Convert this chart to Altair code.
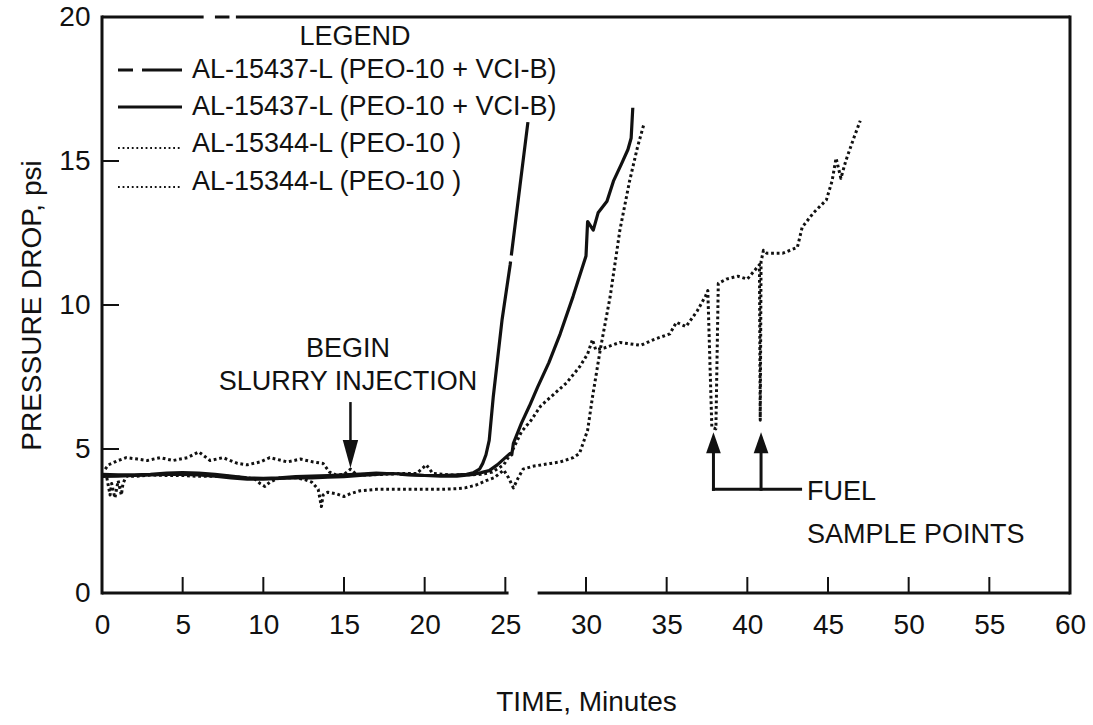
import altair as alt
import pandas as pd

FONT = "Liberation Sans, Arial, Helvetica, sans-serif"
INK = "#111111"

# ---------------- data ----------------
# AL-15437-L (PEO-10 + VCI-B), long-dashed trace (steep rise at ~24 min)
steep_t = [0, 1, 2, 3, 4, 5, 6, 7, 8, 9, 10, 11, 12, 13, 14, 15, 16, 17, 18, 19, 20, 21, 22,
           22.6, 23.0, 23.4, 23.6, 23.8, 24.0, 24.25, 24.8, 25.3, 25.9, 26.4]
steep_v = [4.12, 4.1, 4.1, 4.12, 4.16, 4.18, 4.16, 4.12, 4.06, 4.0, 3.98, 4.0, 4.04, 4.06, 4.08,
           4.1, 4.13, 4.16, 4.14, 4.1, 4.08, 4.08, 4.1,
           4.12, 4.17, 4.3, 4.5, 4.8, 5.3, 6.8, 9.5, 11.4, 14.1, 16.35]

# AL-15437-L (PEO-10 + VCI-B), solid trace
solid_t = [0, 1, 2, 3, 4, 5, 6, 7, 8, 9, 10, 11, 12, 13, 14, 15, 16, 17, 18, 19, 20, 21, 22,
           23, 23.5, 24.0, 24.5, 25.0, 25.3, 25.4, 25.5, 26.0, 26.5, 27.0, 27.7, 28.4, 29.2,
           30.0, 30.1, 30.45, 30.75, 31.3, 31.7, 32.2, 32.6, 32.8, 32.9]
solid_v = [4.05, 4.06, 4.08, 4.1, 4.12, 4.12, 4.1, 4.06, 4.0, 3.95, 3.95, 3.98, 4.0, 4.0, 4.02,
           4.04, 4.08, 4.12, 4.15, 4.12, 4.08, 4.06, 4.06,
           4.12, 4.18, 4.25, 4.45, 4.7, 4.85, 4.8, 5.2, 5.9, 6.5, 7.15, 8.0, 9.0, 10.3,
           11.7, 12.9, 12.6, 13.2, 13.6, 14.3, 14.9, 15.4, 15.8, 16.85]

# AL-15344-L (PEO-10), dotted trace ending at ~33.6 min
dota_t = [0, 0.3, 0.5, 0.6, 0.8, 1.0, 1.2, 1.3, 1.5, 2, 3, 4, 5, 6, 7, 8, 9, 9.5, 9.8, 10.1,
          10.4, 11, 12, 12.5, 13.0, 13.4, 13.6, 13.7, 13.8, 14.0, 14.5, 15.0, 15.4, 16.0, 17,
          18, 19, 20, 21, 22, 22.5, 23.2, 23.8, 24.3, 24.9, 25.2, 25.5, 25.8, 26.1, 26.7,
          27.8, 28.4, 29.2, 29.6, 30.1, 30.4, 30.9, 31.5, 32.1, 32.7, 33.2, 33.6]
dota_v = [4.1, 4.0, 3.4, 3.8, 3.3, 3.9, 3.4, 3.8, 4.05, 4.05, 4.1, 4.08, 4.08, 4.05, 4.05,
          4.05, 4.0, 3.95, 3.8, 3.7, 3.85, 4.0, 4.0, 3.95, 3.85, 3.6, 3.0, 3.4, 3.45, 3.5,
          3.45, 3.35, 3.45, 3.55, 3.6, 3.6, 3.6, 3.6, 3.6, 3.62, 3.65, 3.75, 3.9, 4.0, 4.27,
          4.0, 3.65, 4.0, 4.3, 4.4, 4.5, 4.55, 4.7, 4.85, 5.65, 6.8, 8.5, 10.3, 12.6, 14.3,
          15.5, 16.3]

# AL-15344-L (PEO-10), dotted trace running to ~47 min (with fuel-sample dips)
dotb_t = [0.2, 0.4, 1.0, 1.5, 2.2, 2.8, 3.6, 4.4, 5.3, 6.0, 6.7, 7.5, 8.4, 9.0, 9.8, 10.4,
          11.5, 12.3, 13.1, 13.7, 14.1, 14.5, 15.0, 15.4, 15.8, 16.5, 17.5, 18.5, 19.5, 20.1,
          20.5, 21.5, 22.5, 23.5, 24.2, 24.9, 25.4, 26.0, 26.6, 27.2, 28.0, 28.8, 29.6, 30.1,
          30.4, 30.6, 31.1, 32.1, 33.4, 34.2, 35.2, 35.6, 36.2, 36.9, 37.4, 37.55, 37.8, 38.05,
          38.2, 38.7, 39.4, 40.0, 40.6, 40.75, 40.8, 40.85, 41.0, 41.2, 42.2, 43.1, 43.4, 44.1,
          44.9, 45.25, 45.5, 45.8, 46.1, 46.6, 47.0]
dotb_v = [4.3, 4.45, 4.6, 4.7, 4.65, 4.6, 4.7, 4.6, 4.7, 4.9, 4.6, 4.7, 4.5, 4.45, 4.55, 4.7,
          4.55, 4.65, 4.55, 4.5, 4.2, 4.1, 4.12, 4.3, 4.1, 4.1, 4.12, 4.15, 4.15, 4.45,
          4.15, 4.1, 4.1, 4.12, 4.2, 4.45, 4.9, 5.6, 6.0, 6.5, 6.9, 7.3, 7.85, 8.3,
          8.8, 8.45, 8.5, 8.7, 8.6, 8.8, 9.0, 9.4, 9.25, 9.8, 10.3, 10.5, 5.75, 5.7,
          10.75, 10.9, 11.0, 10.9, 11.3, 11.4, 6.0, 11.5, 11.9, 11.8, 11.8, 12.0, 12.7, 13.2,
          13.65, 14.3, 15.1, 14.4, 15.0, 15.8, 16.4]

x_tick_values = [0, 5, 10, 15, 20, 25, 30, 35, 40, 45, 50, 55, 60]
y_tick_values = [0, 5, 10, 15, 20]
inner_x_ticks = [5, 10, 15, 20, 25, 30, 35, 40, 45, 50, 55]
inner_y_ticks = [5, 10, 15]

legend_title = ["LEGEND"]
legend_labels = ["AL-15437-L (PEO-10 + VCI-B)", "AL-15437-L (PEO-10 + VCI-B)",
                 "AL-15344-L (PEO-10 )", "AL-15344-L (PEO-10 )"]

# frame pieces (the scanned frame has small breaks)
frame_top_start = [0, 7.0, 8.3]
frame_top_end = [6.3, 7.9, 60]
frame_bottom_start = [0, 27.0]
frame_bottom_end = [25.2, 60]

# annotations
slurry_lines = ["BEGIN", "SLURRY INJECTION"]
slurry_text_t = [15.25, 15.25]
slurry_text_v = [8.2, 7.05]
slurry_arrow_t = [15.4]
slurry_shaft_top = [6.63]
slurry_shaft_bottom = [5.2]
slurry_head_v = [4.83]

fuel_arrow_t = [37.9, 40.85]
fuel_head_v = [5.22, 5.22]
fuel_shaft_top = [4.9, 4.9]
fuel_shaft_bottom = [3.6, 3.6]
fuel_bar_t0 = [37.9]
fuel_bar_t1 = [43.3]
fuel_bar_v = [3.6]
fuel_lines = ["FUEL", "SAMPLE POINTS"]
fuel_text_t = [43.7, 43.7]
fuel_text_v = [3.23, 1.75]

# ---------------- chart ----------------
W, H = 968, 576
xs = alt.Scale(domain=[0, 60], nice=False, zero=False)
ys = alt.Scale(domain=[0, 20], nice=False, zero=False)

x_axis = alt.Axis(values=x_tick_values, title="TIME, Minutes", domain=False, ticks=False,
                  grid=False, labelFont=FONT, labelFontSize=28, labelColor=INK,
                  labelPadding=18, labelFlush=False, labelOverlap=False,
                  titleFont=FONT, titleFontSize=28, titleFontWeight="normal",
                  titleColor=INK, titleY=117, titleBaseline="alphabetic")
y_axis = alt.Axis(values=y_tick_values, title="PRESSURE DROP, psi", domain=False, ticks=False,
                  grid=False, labelFont=FONT, labelFontSize=28, labelColor=INK,
                  labelPadding=12, labelFlush=False, labelOverlap=False,
                  titleFont=FONT, titleFontSize=28, titleFontWeight="normal",
                  titleColor=INK, titleAngle=-90, titleX=-62, titleY=H / 2,
                  titleBaseline="alphabetic", titleAlign="center")


def X(field):
    return alt.X(field, type="quantitative", scale=xs, axis=x_axis)


def Y(field):
    return alt.Y(field, type="quantitative", scale=ys, axis=y_axis)


def series_df(ts, vs):
    return pd.DataFrame({"t": ts, "v": vs, "i": list(range(len(ts)))})


def line(ts, vs, width, dash=None):
    kw = dict(color=INK, strokeWidth=width, strokeJoin="round", interpolate="linear")
    if dash is not None:
        kw["strokeDash"] = dash
        kw["strokeCap"] = "butt"
    return alt.Chart(series_df(ts, vs)).mark_line(**kw).encode(
        x=X("t"), y=Y("v"), order="i:Q")


dotb = line(dotb_t, dotb_v, 3.0, dash=[2.8, 2.8])
dota = line(dota_t, dota_v, 3.0, dash=[2.8, 2.8])
solid = line(solid_t, solid_v, 3.2)
steep = line(steep_t, steep_v, 3.2, dash=[292, 6])

# frame
frame_left = alt.Chart(pd.DataFrame({"k": [0]})).mark_rule(color=INK, strokeWidth=3).encode(
    x=alt.value(0), y=alt.value(-1.5), y2=alt.value(H + 1.5))
frame_right = alt.Chart(pd.DataFrame({"k": [0]})).mark_rule(color=INK, strokeWidth=3).encode(
    x=alt.value(W), y=alt.value(-1.5), y2=alt.value(H + 1.5))
frame_top = alt.Chart(pd.DataFrame({"t": frame_top_start, "t1": frame_top_end,
                                    "v": [20] * len(frame_top_start)})).mark_rule(
    color=INK, strokeWidth=3).encode(x=X("t"), x2="t1:Q", y=Y("v"))
frame_bottom = alt.Chart(pd.DataFrame({"t": frame_bottom_start, "t1": frame_bottom_end,
                                       "v": [0] * len(frame_bottom_start)})).mark_rule(
    color=INK, strokeWidth=3).encode(x=X("t"), x2="t1:Q", y=Y("v"))

# inward ticks
xticks = alt.Chart(pd.DataFrame({"t": inner_x_ticks})).mark_rule(color=INK, strokeWidth=2).encode(
    x=X("t"), y=alt.value(H), y2=alt.value(H - 16))
yticks = alt.Chart(pd.DataFrame({"v": inner_y_ticks})).mark_rule(color=INK, strokeWidth=2).encode(
    y=Y("v"), x=alt.value(0), x2=alt.value(17))

# legend (drawn inside the plot, as in the reference)
leg_rows_y = [61, 98, 135, 173]
leg_sym_y = [53, 90, 131, 170]
legend_layers = [
    alt.Chart(pd.DataFrame({"label": legend_title})).mark_text(
        font=FONT, fontSize=27, color=INK, align="center", baseline="alphabetic").encode(
        text="label:N", x=alt.value(253), y=alt.value(28))
]
sym_styles = [dict(strokeWidth=3, strokeDash=[15, 9, 40, 9]),
              dict(strokeWidth=3),
              dict(strokeWidth=1.8, strokeDash=[1.8, 2.8]),
              dict(strokeWidth=1.8, strokeDash=[1.8, 2.8])]
for k, lab in enumerate(legend_labels):
    legend_layers.append(
        alt.Chart(pd.DataFrame({"label": [lab]})).mark_text(
            font=FONT, fontSize=27, color=INK, align="left", baseline="alphabetic").encode(
            text="label:N", x=alt.value(90), y=alt.value(leg_rows_y[k])))
    legend_layers.append(
        alt.Chart(pd.DataFrame({"label": [lab]})).mark_rule(color=INK, strokeCap="butt",
                                                            **sym_styles[k]).encode(
            x=alt.value(16), x2=alt.value(80), y=alt.value(leg_sym_y[k])))

# annotations
text_style = dict(font=FONT, fontSize=27, color=INK, baseline="alphabetic")
slurry_text = alt.Chart(pd.DataFrame({"t": slurry_text_t, "v": slurry_text_v,
                                      "label": slurry_lines})).mark_text(
    align="center", **text_style).encode(x=X("t"), y=Y("v"), text="label:N")
slurry_shaft = alt.Chart(pd.DataFrame({"t": slurry_arrow_t, "v": slurry_shaft_top,
                                       "b": slurry_shaft_bottom})).mark_rule(
    color=INK, strokeWidth=2.5).encode(x=X("t"), y=Y("v"), y2="b:Q")
slurry_head = alt.Chart(pd.DataFrame({"t": slurry_arrow_t, "v": slurry_head_v})).mark_point(
    shape="M-0.55,-1L0.55,-1L0,1Z", filled=True, size=784, color=INK, opacity=1,
    strokeWidth=0).encode(x=X("t"), y=Y("v"))

fuel_shafts = alt.Chart(pd.DataFrame({"t": fuel_arrow_t, "v": fuel_shaft_top,
                                      "b": fuel_shaft_bottom})).mark_rule(
    color=INK, strokeWidth=3, strokeCap="square").encode(x=X("t"), y=Y("v"), y2="b:Q")
fuel_heads = alt.Chart(pd.DataFrame({"t": fuel_arrow_t, "v": fuel_head_v})).mark_point(
    shape="M-0.7,1L0.7,1L0,-1Z", filled=True, size=441, color=INK, opacity=1,
    strokeWidth=0).encode(x=X("t"), y=Y("v"))
fuel_bar = alt.Chart(pd.DataFrame({"t": fuel_bar_t0, "t1": fuel_bar_t1,
                                   "v": fuel_bar_v})).mark_rule(
    color=INK, strokeWidth=3, strokeCap="square").encode(x=X("t"), x2="t1:Q", y=Y("v"))
fuel_text = alt.Chart(pd.DataFrame({"t": fuel_text_t, "v": fuel_text_v,
                                    "label": fuel_lines})).mark_text(
    align="left", **text_style).encode(x=X("t"), y=Y("v"), text="label:N")

chart = alt.layer(
    dotb, dota, solid, steep,
    frame_left, frame_right, frame_top, frame_bottom, xticks, yticks,
    *legend_layers,
    slurry_text, slurry_shaft, slurry_head,
    fuel_shafts, fuel_heads, fuel_bar, fuel_text,
).properties(
    width=W, height=H,
    padding={"left": 102, "top": 17, "right": 23, "bottom": 132},
    autosize=alt.AutoSizeParams(type="none"),
    background="white",
).configure_view(stroke=None)

chart.save("out.html", embed_options={"renderer": "svg", "actions": False})
